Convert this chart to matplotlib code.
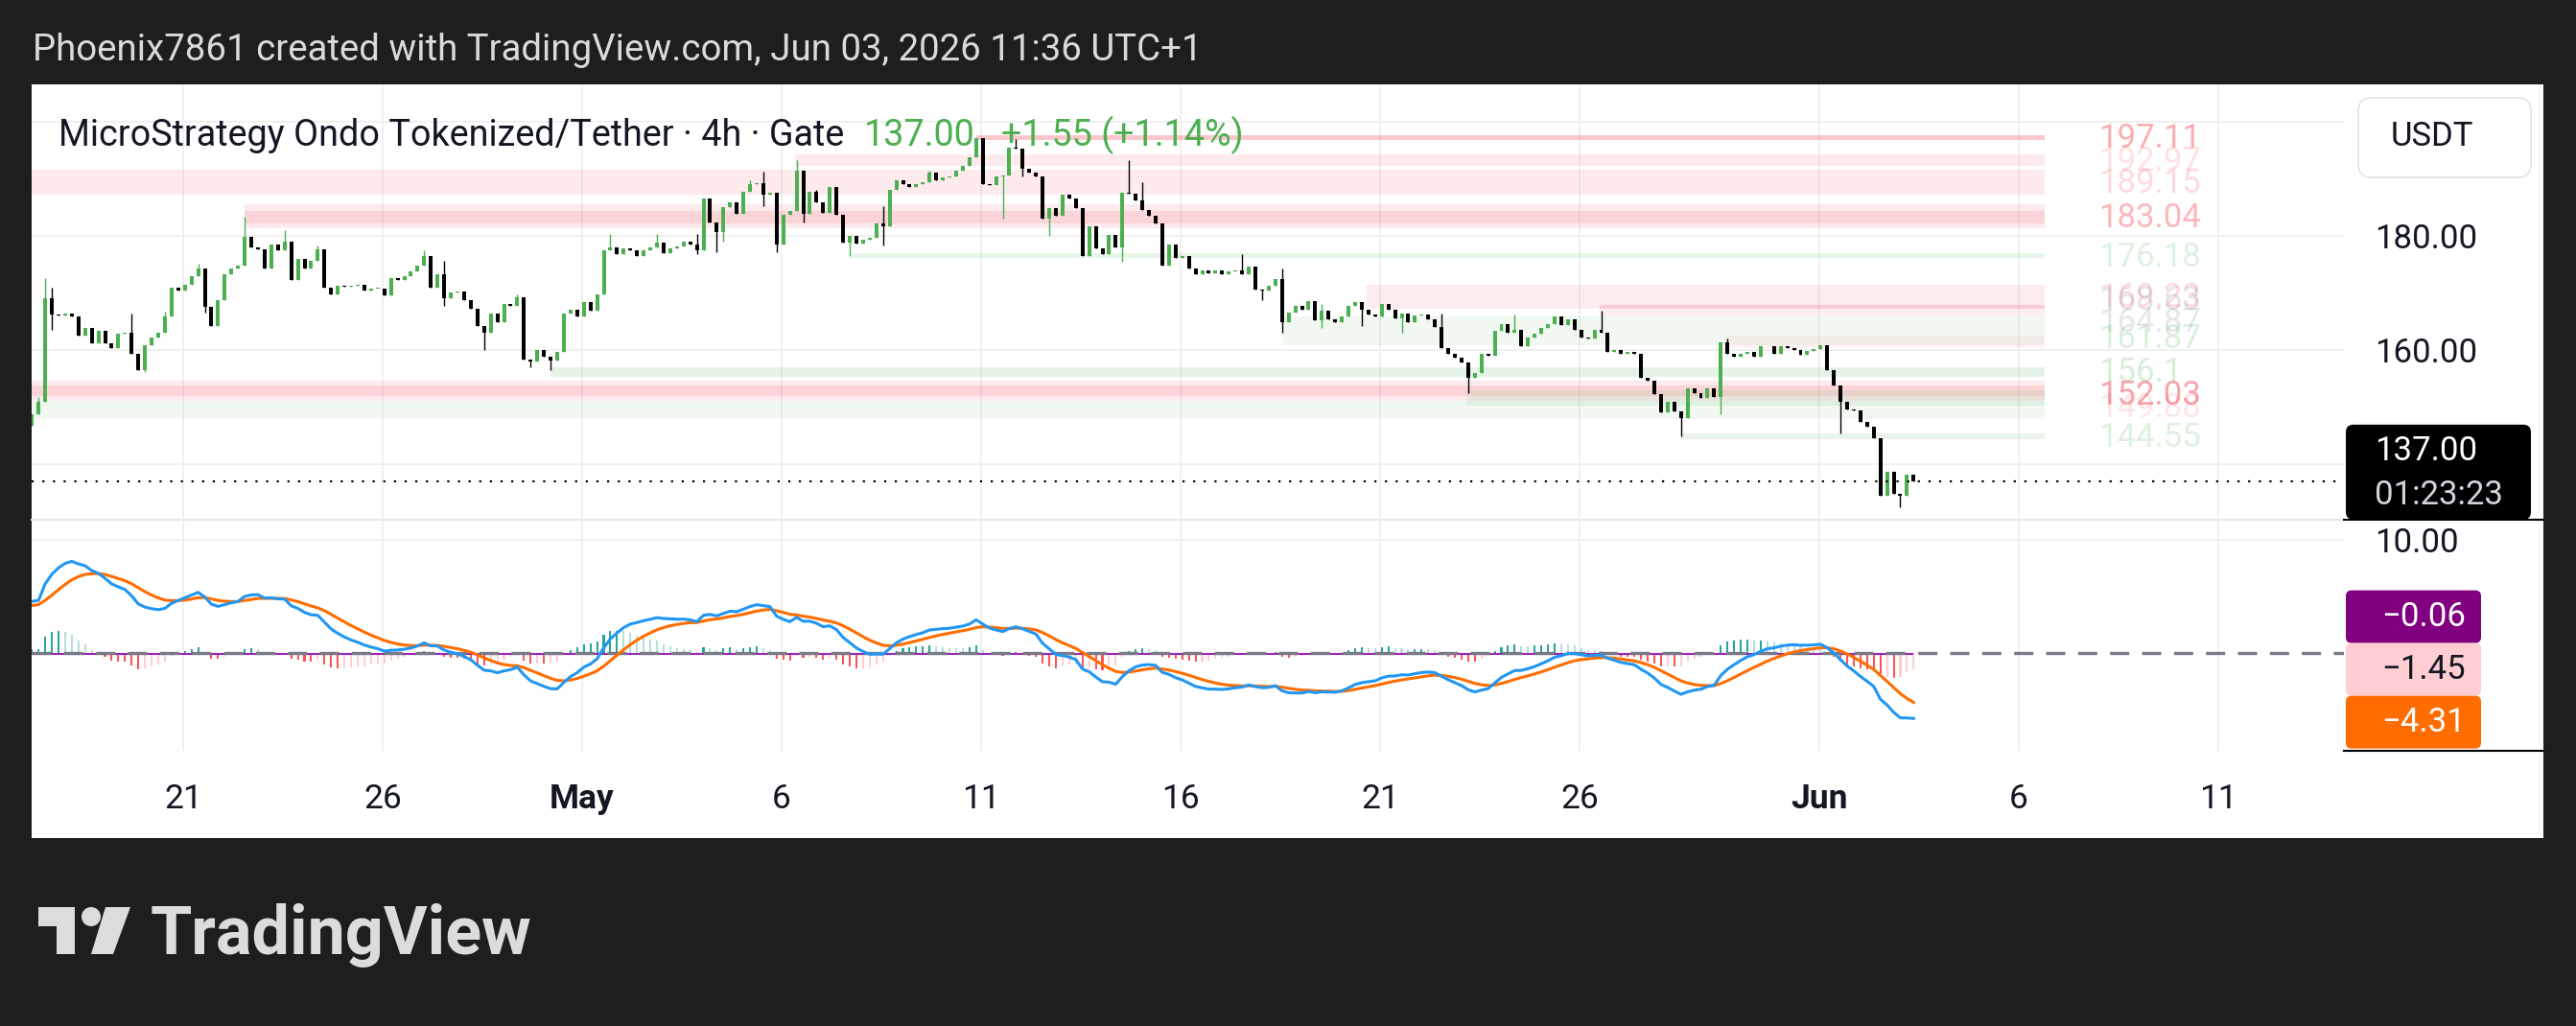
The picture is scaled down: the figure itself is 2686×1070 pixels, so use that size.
import matplotlib
matplotlib.use('Agg')
import matplotlib.pyplot as plt
import matplotlib.dates as mdates
from matplotlib.patches import Rectangle, FancyBboxPatch, Polygon, Circle
from matplotlib.transforms import blended_transform_factory as blend
from datetime import datetime, timedelta

plt.rcParams['font.family'] = ['Roboto', 'DejaVu Sans']

# ---- data ----
# 4h bars, first one Apr 17 05:00 (UTC+1); open of each bar = previous close
bar_start = datetime(2026, 4, 17, 5)
first_open = 146.8
closes = [
    148.8, 151.0, 169.0, 166.2, 166.0, 166.4, 165.9, 162.5, 163.8, 161.1,
    163.4, 161.1, 160.3, 162.8, 163.1, 159.4, 156.4, 160.8, 162.2, 163.1,
    165.9, 170.9, 170.4, 171.5, 172.9, 174.3, 167.6, 164.2, 168.8, 173.2,
    174.3, 174.8, 179.9, 177.9, 177.6, 174.3, 178.5, 177.5, 179.0, 172.3,
    176.0, 174.3, 175.7, 177.6, 170.9, 169.8, 171.2, 171.1, 171.2, 171.5,
    170.4, 170.8, 170.8, 169.5, 172.6, 172.2, 172.9, 173.7, 174.8, 176.5,
    170.9, 173.2, 169.0, 170.1, 170.3, 168.7, 167.3, 164.2, 163.1, 166.4,
    164.8, 168.1,
    167.8, 169.2, 158.3, 158.0, 160.0, 158.9, 158.2, 159.6, 166.4, 167.0,
    165.9, 168.4, 166.9, 169.8, 177.4, 177.9, 176.8, 177.8, 177.4, 176.5,
    177.5, 177.9, 178.9, 177.0, 177.8, 178.1, 179.0, 178.5, 177.5, 186.6,
    182.4, 180.7, 185.0, 185.9, 183.9, 187.7, 189.0, 189.3, 187.2, 187.6,
    178.5, 183.7, 184.3, 191.5, 183.8, 187.8, 185.8, 184.1, 188.5, 183.7,
    178.8, 180.0, 178.7, 179.4, 179.6, 182.2, 181.6, 188.0, 189.7, 189.0,
    188.6, 189.0, 189.4, 191.1, 189.7, 190.3, 190.4, 191.5, 192.2, 193.8,
    197.1,
    189.1, 188.9, 190.4, 190.6, 195.5, 195.3, 191.7, 191.1, 190.5, 183.0,
    184.8, 183.5, 187.2, 186.5, 184.8, 176.5, 181.6, 177.8, 176.8, 180.1,
    177.9, 187.6, 187.4, 186.2, 184.6, 183.5, 182.1, 174.8, 178.5, 176.2,
    176.4, 174.3, 173.2, 174.0, 173.4, 174.0, 173.2, 173.8, 173.9, 173.3,
    174.6, 170.6, 170.4, 171.2, 172.5, 164.8, 166.6, 167.7, 167.1, 168.6,
    165.2, 166.9, 165.3, 164.9, 165.9, 167.7, 168.4, 167.0, 166.2, 165.9,
    168.1, 167.1, 165.6, 166.4, 164.9, 166.1, 166.2, 165.4, 164.1, 160.3,
    159.4,
    158.7, 157.8, 155.2, 155.9, 159.3, 159.0, 163.4, 164.5, 163.1, 163.5,
    160.6, 162.1, 162.8, 163.8, 164.6, 165.9, 164.3, 165.4, 163.6, 162.2,
    162.0, 163.6, 163.1, 159.7, 160.0, 159.3, 159.7, 159.4, 155.1, 154.7,
    152.3, 149.1, 151.0, 149.2, 148.1, 153.3, 152.4, 151.6, 153.3, 151.8,
    161.3, 159.4, 158.9, 159.4, 159.7, 158.9, 160.6, 160.7, 159.4, 160.6,
    160.4, 160.0, 159.2, 159.8, 160.2, 160.8, 156.4, 153.7, 150.9, 149.6,
    149.4, 147.4, 146.6, 144.6, 134.5, 138.7, 134.8, 134.5, 138.2, 137.0,
]
# visible wicks (bar index -> price)
wick_high = {1: 151.8, 2: 172.6, 3: 171.0, 15: 166.4, 20: 166.7, 25: 175.1, 32: 183.4,
             38: 181.0, 43: 178.3, 59: 177.5, 62: 175.7, 73: 169.8, 87: 180.4, 94: 180.3,
             100: 180.4, 108: 189.7, 110: 191.2, 115: 193.2, 118: 188.0, 128: 185.2,
             135: 191.5, 148: 197.0, 165: 193.2, 167: 189.4, 182: 176.8, 188: 174.3,
             194: 168.1, 212: 166.4, 223: 166.2, 236: 166.9, 255: 162.0}
wick_low = {3: 163.6, 17: 156.1, 26: 166.6, 39: 172.2, 62: 167.8, 68: 160.0, 75: 157.0,
            78: 156.4, 100: 176.8, 103: 177.2, 104: 179.0, 110: 185.2, 112: 177.1,
            116: 182.4, 123: 176.5, 128: 178.3, 146: 183.0, 149: 190.4, 153: 180.0,
            164: 175.4, 185: 168.7, 188: 163.1, 194: 163.9, 200: 164.2, 206: 163.1,
            216: 152.5, 248: 144.9, 254: 148.8, 272: 145.3, 281: 132.5}

# MACD(12, 26, 9) state just before the first visible bar
ema_fast_seed = 145.0
ema_slow_seed = 140.4
signal_seed = 4.1

last_price = 137.00
price_change = '+1.55 (+1.14%)'
countdown = '01:23:23'
macd_boxes = [('\u22120.06', '#800080', 'white'), ('\u22121.45', '#ffcdd2', '#131722'),
              ('\u22124.31', '#ff6d00', 'white')]
hist_last = -1.45
purple_val = -0.06

# support / resistance zones: start, low, high, colour, alpha
left_edge = datetime(2026, 4, 17, 0)
zone_end = datetime(2026, 6, 6, 16)
label_at = datetime(2026, 6, 8, 0)
RED, GREEN = '#f23645', '#4caf50'
zones = [
    (datetime(2026, 5, 10, 21), 196.8, 197.6, RED, 0.28),
    (datetime(2026, 5, 6, 8), 192.3, 194.3, RED, 0.10),
    (left_edge, 187.3, 191.6, RED, 0.10),
    (datetime(2026, 4, 22, 13), 181.3, 185.5, RED, 0.10),
    (datetime(2026, 4, 22, 13), 182.2, 184.4, RED, 0.12),
    (datetime(2026, 5, 7, 17), 176.1, 176.9, GREEN, 0.12),
    (datetime(2026, 5, 20, 16), 167.2, 171.4, RED, 0.09),
    (datetime(2026, 5, 26, 12), 165.9, 167.9, RED, 0.08),
    (datetime(2026, 5, 26, 12), 167.3, 167.9, RED, 0.10),
    (datetime(2026, 5, 18, 13), 160.8, 165.9, GREEN, 0.08),
    (datetime(2026, 5, 29, 16), 160.3, 162.5, RED, 0.06),
    (datetime(2026, 4, 30, 5), 155.3, 157.0, GREEN, 0.14),
    (left_edge, 151.1, 154.6, RED, 0.10),
    (left_edge, 151.9, 153.8, RED, 0.12),
    (left_edge, 147.9, 151.1, GREEN, 0.08),
    (datetime(2026, 5, 23, 4), 150.3, 153.0, GREEN, 0.10),
    (datetime(2026, 5, 28, 13), 144.4, 145.4, GREEN, 0.12),
]
zone_labels = [
    ('197.11', 197.11, RED, 0.40), ('192.97', 192.97, RED, 0.15), ('189.15', 189.15, RED, 0.18),
    ('183.04', 183.04, RED, 0.35), ('176.18', 176.18, GREEN, 0.18), ('169.23', 169.23, RED, 0.18),
    ('168.63', 168.63, '#787b86', 0.20), ('164.87', 164.87, '#787b86', 0.18),
    ('161.87', 161.87, GREEN, 0.20), ('156.1', 156.1, GREEN, 0.22), ('152.03', 152.03, RED, 0.45),
    ('149.88', 149.88, RED, 0.12), ('144.55', 144.55, GREEN, 0.18),
]

tick_dates = [datetime(2026, 4, 21), datetime(2026, 4, 26), datetime(2026, 5, 1),
              datetime(2026, 5, 6), datetime(2026, 5, 11), datetime(2026, 5, 16),
              datetime(2026, 5, 21), datetime(2026, 5, 26), datetime(2026, 6, 1),
              datetime(2026, 6, 6), datetime(2026, 6, 11)]
tick_text = ['21', '26', 'May', '6', '11', '16', '21', '26', 'Jun', '6', '11']
price_ticks = [140, 160, 180, 200]
price_tick_text = ['', '160.00', '180.00', '']   # 140 / 200 sit under the label boxes

header = 'Phoenix7861 created with TradingView.com, Jun 03, 2026 11:36 UTC+1'
title = 'MicroStrategy Ondo Tokenized/Tether \u00b7 4h \u00b7 Gate'

# ---- derived series ----
n = len(closes)
opens = [first_open] + closes[:-1]
highs = [max(opens[i], closes[i], wick_high.get(i, 0)) for i in range(n)]
lows = [min(opens[i], closes[i], wick_low.get(i, 1e9)) for i in range(n)]
xs = mdates.date2num([bar_start + timedelta(hours=4 * i) for i in range(n)])


def ema(vals, span, seed):
    a = 2.0 / (span + 1)
    e, out = seed, []
    for v in vals:
        e += a * (v - e)
        out.append(e)
    return out


fast = ema(closes, 12, ema_fast_seed)
slow = ema(closes, 26, ema_slow_seed)
macd = [f - s for f, s in zip(fast, slow)]
signal = ema(macd, 9, signal_seed)
hist = [m - s for m, s in zip(macd, signal)]

# ---- layout (pixels) ----
W, H = 2686, 1070
PL, PR = 33, 2444
PT, PM, PB = 88, 542, 783
PANEL_R, PANEL_B = 2652, 874
TXT = '#131722'

fig = plt.figure(figsize=(W / 100, H / 100), dpi=100)
fig.patch.set_facecolor('#1e1e1e')
bg = fig.add_axes([0, 0, 1, 1])
bg.set_xlim(0, W); bg.set_ylim(H, 0); bg.axis('off')
bg.add_patch(Rectangle((PL, PT), PANEL_R - PL, PANEL_B - PT, facecolor='white', edgecolor='none'))


def pane(y0, y1):
    a = fig.add_axes([PL / W, 1 - y1 / H, (PR - PL) / W, (y1 - y0) / H])
    a.set_facecolor('none')
    for s in a.spines.values():
        s.set_visible(False)
    return a


ax = pane(PT, PM)
axm = pane(PM, PB)
xlim = (mdates.date2num(datetime(2026, 4, 17, 4, 51)), mdates.date2num(datetime(2026, 6, 14, 3, 50)))
for a in (ax, axm):
    a.set_xlim(*xlim)
    a.set_xticks(mdates.date2num(tick_dates))
    a.tick_params(axis='x', length=0, labelbottom=False)
    a.yaxis.tick_right()
    a.tick_params(axis='y', length=0, pad=23, labelsize=25, labelcolor=TXT)
    a.grid(color='#f0f0f0', lw=1.4)
    a.set_axisbelow(True)

ax.set_ylim(130.25, 206.55)
ax.set_yticks(price_ticks)
ax.set_yticklabels(price_tick_text)
axm.set_ylim(-8.64, 11.78)
axm.set_yticks([10])
axm.set_yticklabels(['10.00'])

# zones
xe = mdates.date2num(zone_end)
for st, lo, hi, c, al in zones:
    x0 = mdates.date2num(st)
    ax.add_patch(Rectangle((x0, lo), xe - x0, hi - lo, facecolor=c, alpha=al, lw=0, zorder=1))
for txt, v, c, al in zone_labels:
    ax.text(mdates.date2num(label_at), v, txt, color=c, alpha=al, fontsize=25,
            va='center', ha='left', zorder=1)

# candles
up = [c >= o for o, c in zip(opens, closes)]
cols = ['#4caf50' if u else '#000000' for u in up]
body_lo = [min(o, c) for o, c in zip(opens, closes)]
body_h = [max(abs(c - o), 0.15) for o, c in zip(opens, closes)]
ax.vlines(xs, lows, highs, colors=cols, lw=1.0, zorder=3)
ax.bar(xs, body_h, bottom=body_lo, width=0.096, color=cols, lw=0, zorder=3)
ax.axhline(last_price, color='black', lw=1.6, dashes=(1, 4), zorder=4)

# MACD pane
hcols = []
for i, h in enumerate(hist):
    p = hist[i - 1] if i else h
    if h >= 0:
        hcols.append('#26a69a' if h >= p else '#b2dfdb')
    else:
        hcols.append('#ff5252' if h < p else '#ffcdd2')
axm.bar(xs, hist, width=0.05, color=hcols, lw=0, zorder=2)
axm.hlines(purple_val, xs[0], xs[-1], color='#9c27b0', lw=1.5, zorder=2)
axm.axhline(0, color='#787b86', lw=2.4, dashes=(6, 4), zorder=2.5)
axm.plot(xs, signal, color='#ff6d00', lw=2.2, zorder=3)
axm.plot(xs, macd, color='#2196f3', lw=2.2, zorder=4)

tr = blend(axm.transData, axm.transAxes)
for d, t in zip(tick_dates, tick_text):
    axm.text(mdates.date2num(d), -0.249, t, transform=tr, ha='center', va='baseline',
             fontsize=25.5, color=TXT, fontweight='bold' if t.isalpha() else 'normal')

# separators
bg.plot([PL, PR], [PM, PM], color='#e6e6e6', lw=1.5)
bg.plot([PR, PANEL_R], [PM, PM], color='black', lw=1.5)
bg.plot([PR, PANEL_R], [PB, PB], color='black', lw=1.5)

# header / footer
bg.text(34, 63, header, fontsize=27.6, color='#dadada', va='baseline')
bg.add_patch(Polygon([(40, 946), (78, 946), (78, 995), (59, 995), (59, 966), (40, 966)],
                     closed=True, facecolor='#dcdcdc', lw=0))
bg.add_patch(Circle((95, 956), 10, facecolor='#dcdcdc', lw=0))
bg.add_patch(Polygon([(110, 946), (136, 946), (118, 995), (95, 995)], closed=True,
                     facecolor='#dcdcdc', lw=0))
bg.text(157, 995, 'TradingView', fontsize=50.5, fontweight='bold', color='#dcdcdc', va='baseline')

# overlay for boxes drawn above tick labels
ov = fig.add_axes([0, 0, 1, 1])
ov.set_xlim(0, W); ov.set_ylim(H, 0); ov.axis('off')

t1 = ov.text(61, 152, title, fontsize=27.2, color=TXT, va='baseline')
fig.canvas.draw()
r = fig.canvas.get_renderer()
x1 = t1.get_window_extent(r).x1
t2 = ov.text(x1 + 21, 152, f'{last_price:.2f}', fontsize=27.2, color='#4caf50', va='baseline')
x2 = t2.get_window_extent(r).x1
ov.text(x2 + 27, 152, price_change, fontsize=27.2, color='#4caf50', va='baseline')

ov.add_patch(FancyBboxPatch((2459, 102), 180, 83, boxstyle='round,pad=0,rounding_size=14',
                            facecolor='white', edgecolor='#e0e3eb', lw=1.2))
ov.text(2536, 143, 'USDT', fontsize=25, color=TXT, ha='center', va='center')

# last price label
yline = H - ax.transData.transform((xlim[0], last_price))[1]
bh = 99
top = yline - 59
if top + bh > PM:
    top = PM - bh
ov.add_patch(FancyBboxPatch((2446, top), 193, bh, boxstyle='round,pad=0,rounding_size=8',
                            facecolor='black', lw=0))
ov.text(2476, top + 28, f'{last_price:.2f}', fontsize=25, color='white', va='center')
ov.text(2476, top + 74, countdown, fontsize=25, color='#d1d4dc', va='center')

# MACD value labels, stacked around the histogram value
yh = H - axm.transData.transform((xlim[0], hist_last))[1]
lh = 55
for k, (txt, fc, tc) in enumerate(macd_boxes):
    yc = yh + (k - 1) * lh
    ov.add_patch(FancyBboxPatch((2446, yc - lh / 2), 141, lh,
                                boxstyle='round,pad=0,rounding_size=6', facecolor=fc, lw=0))
    ov.text(2571, yc, txt, fontsize=25, color=tc, ha='right', va='center')

fig.savefig('out.png', dpi=100, facecolor=fig.get_facecolor())
